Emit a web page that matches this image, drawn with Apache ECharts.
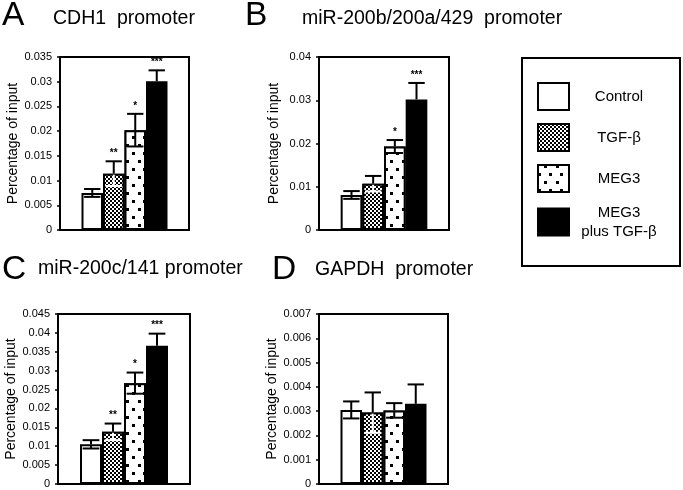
<!DOCTYPE html>
<html>
<head>
<meta charset="utf-8">
<script src="https://cdn.jsdelivr.net/npm/echarts@6/dist/echarts.min.js"></script>
<style>html,body{margin:0;padding:0;background:#fff}#c{width:683px;height:490px}</style>
</head>
<body>
<div id="c"></div>
<script>
// ---- data ----
const categories = ['Control', 'TGF-β', 'MEG3', 'MEG3\nplus TGF-β'];
const slots = ['s0', 'Control', 'TGF-β', 'MEG3', 'MEG3 plus TGF-β', 's5'];

const meansA = [0.0075, 0.0114, 0.0202, 0.0301];
const errA   = [0.0008, 0.0025, 0.0033, 0.0022];
const starsA = ['', '**', '*', '***'];

const meansB = [0.0081, 0.0107, 0.0193, 0.0302];
const errB   = [0.0009, 0.0018, 0.0015, 0.0038];
const starsB = ['', '', '*', '***'];

const meansC = [0.0105, 0.0138, 0.0267, 0.0366];
const errC   = [0.0011, 0.0022, 0.0028, 0.0032];
const starsC = ['', '**', '*', '***'];

const meansD = [0.00305, 0.00294, 0.00303, 0.0033];
const errD   = [0.00035, 0.00083, 0.0003, 0.0008];
const starsD = ['', '', '', ''];

const yMax  = [0.035, 0.04, 0.045, 0.007];
const yStep = [0.005, 0.01, 0.005, 0.001];
const panelLetters = ['A', 'B', 'C', 'D'];
const panelTitles = ['CDH1  promoter', 'miR-200b/200a/429  promoter', 'miR-200c/141 promoter', 'GAPDH  promoter'];
const yName = 'Percentage of input';

// ---- layout / style ----
const FONT = 'Liberation Sans, Arial, sans-serif';
const grids = [
  {left: 60, top: 57, width: 129, height: 173},
  {left: 319, top: 57, width: 130, height: 173},
  {left: 58, top: 314, width: 132, height: 170},
  {left: 319, top: 314, width: 129, height: 170}
];
const letterPos = [[2, -1], [245, -1], [2, 253], [272, 253]];
const titlePos = [[53, 9], [302, 9], [38, 259], [315, 260]];

const styles = [
  {color: '#fff', borderColor: '#000', borderWidth: 2},
  {color: '#fff', borderColor: '#000', borderWidth: 2,
   decal: {symbol: 'rect', symbolSize: 1, color: '#000', backgroundColor: '#fff',
           dashArrayX: [[2, 2], [0, 2, 2, 0]], dashArrayY: [2, 0]}},
  {color: '#fff', borderColor: '#000', borderWidth: 2,
   decal: {symbol: 'rect', symbolSize: 1, color: '#000', backgroundColor: '#fff',
           dashArrayX: [[3, 8], [0, 5.5, 3, 2.5]], dashArrayY: [3, 5]}},
  {color: '#000', borderColor: '#000', borderWidth: 2}
];
const lowerColors = ['#000', '#fff', '#000', '#000'];

const allMeans = [meansA, meansB, meansC, meansD];
const allErr = [errA, errB, errC, errD];
const allStars = [starsA, starsB, starsC, starsD];

const option = {
  backgroundColor: '#fff',
  animation: false,
  title: [],
  grid: [],
  xAxis: [],
  yAxis: [],
  series: [],
  legend: {
    data: categories,
    orient: 'vertical',
    left: 522, top: 58,
    icon: 'rect',
    itemWidth: 31, itemHeight: 27, itemGap: 12,
    padding: [24, 16, 27, 15],
    borderColor: '#000', borderWidth: 2,
    selectedMode: false,
    formatter: function (name) {
      return name.split('\n').map(s => '{a|' + s + '}').join('\n');
    },
    textStyle: {fontFamily: FONT, fontSize: 15, color: '#000',
      rich: {a: {fontFamily: FONT, fontSize: 15, color: '#000', width: 90, align: 'center', lineHeight: 19}}}
  }
};

for (let g = 0; g < 4; g++) {
  option.title.push({text: panelLetters[g], left: letterPos[g][0], top: letterPos[g][1], padding: 0,
    textStyle: {fontFamily: FONT, fontSize: 33.5, fontWeight: 'normal', color: '#000'}});
  option.title.push({text: panelTitles[g], left: titlePos[g][0], top: titlePos[g][1], padding: 0,
    textStyle: {fontFamily: FONT, fontSize: 19.5, fontWeight: 'normal', color: '#000'}});
  option.grid.push(Object.assign({show: true, borderColor: '#000', borderWidth: 2, backgroundColor: 'transparent'}, grids[g]));
  option.xAxis.push({type: 'category', gridIndex: g, data: slots,
    axisLine: {lineStyle: {color: '#000', width: 2}}, axisTick: {show: false}, axisLabel: {show: false}});
  option.yAxis.push({type: 'value', gridIndex: g, min: 0, max: yMax[g], interval: yStep[g],
    name: yName, nameLocation: 'middle', nameGap: 38, nameRotate: 90,
    nameTextStyle: {fontFamily: FONT, fontSize: 14, color: '#000'},
    axisLine: {show: true, lineStyle: {color: '#000', width: 2}},
    axisTick: {show: true, length: 3, lineStyle: {color: '#000', width: 1.5}},
    axisLabel: {fontFamily: FONT, fontSize: 11, color: '#000', margin: 8},
    splitLine: {show: false}});
  for (let i = 0; i < 4; i++) {
    const d = slots.map(() => null);
    d[i + 1] = allMeans[g][i];
    option.series.push({type: 'bar', name: categories[i], xAxisIndex: g, yAxisIndex: g,
      data: d, barWidth: '100%', barGap: '-100%', itemStyle: styles[i], z: 2});
  }
  const ebData = allMeans[g].map((m, i) => [i + 1, m, allErr[g][i], i, allStars[g][i]]);
  option.series.push({type: 'custom', xAxisIndex: g, yAxisIndex: g, z: 5, data: ebData,
    renderItem: function (params, api) {
      const x = api.value(0), m = api.value(1), e = api.value(2), t = api.value(3);
      const star = ebData[params.dataIndex][4];
      const pm = api.coord([x, m]);
      const pt = api.coord([x, m + e]);
      const pb = api.coord([x, m - e]);
      const hw = api.size([1, 0])[0] * 0.38;
      const ls = {stroke: '#000', lineWidth: 2};
      const lw = {stroke: lowerColors[t], lineWidth: 2};
      const ch = [
        {type: 'line', shape: {x1: pm[0], y1: pm[1], x2: pt[0], y2: pt[1]}, style: ls},
        {type: 'line', shape: {x1: pt[0] - hw, y1: pt[1], x2: pt[0] + hw, y2: pt[1]}, style: ls},
        {type: 'line', shape: {x1: pm[0], y1: pm[1] + 1, x2: pb[0], y2: pb[1]}, style: lw},
        {type: 'line', shape: {x1: pb[0] - hw, y1: pb[1], x2: pb[0] + hw, y2: pb[1]}, style: lw}
      ];
      if (star) {
        ch.push({type: 'text', style: {text: star, x: pt[0], y: pt[1] - 3, align: 'center', verticalAlign: 'bottom',
          font: 'bold 10px ' + FONT, fill: '#000'}});
      }
      return {type: 'group', children: ch};
    }});
}

const chart = echarts.init(document.getElementById('c'), null, {renderer: 'canvas'});
chart.setOption(option);
</script>
</body>
</html>
